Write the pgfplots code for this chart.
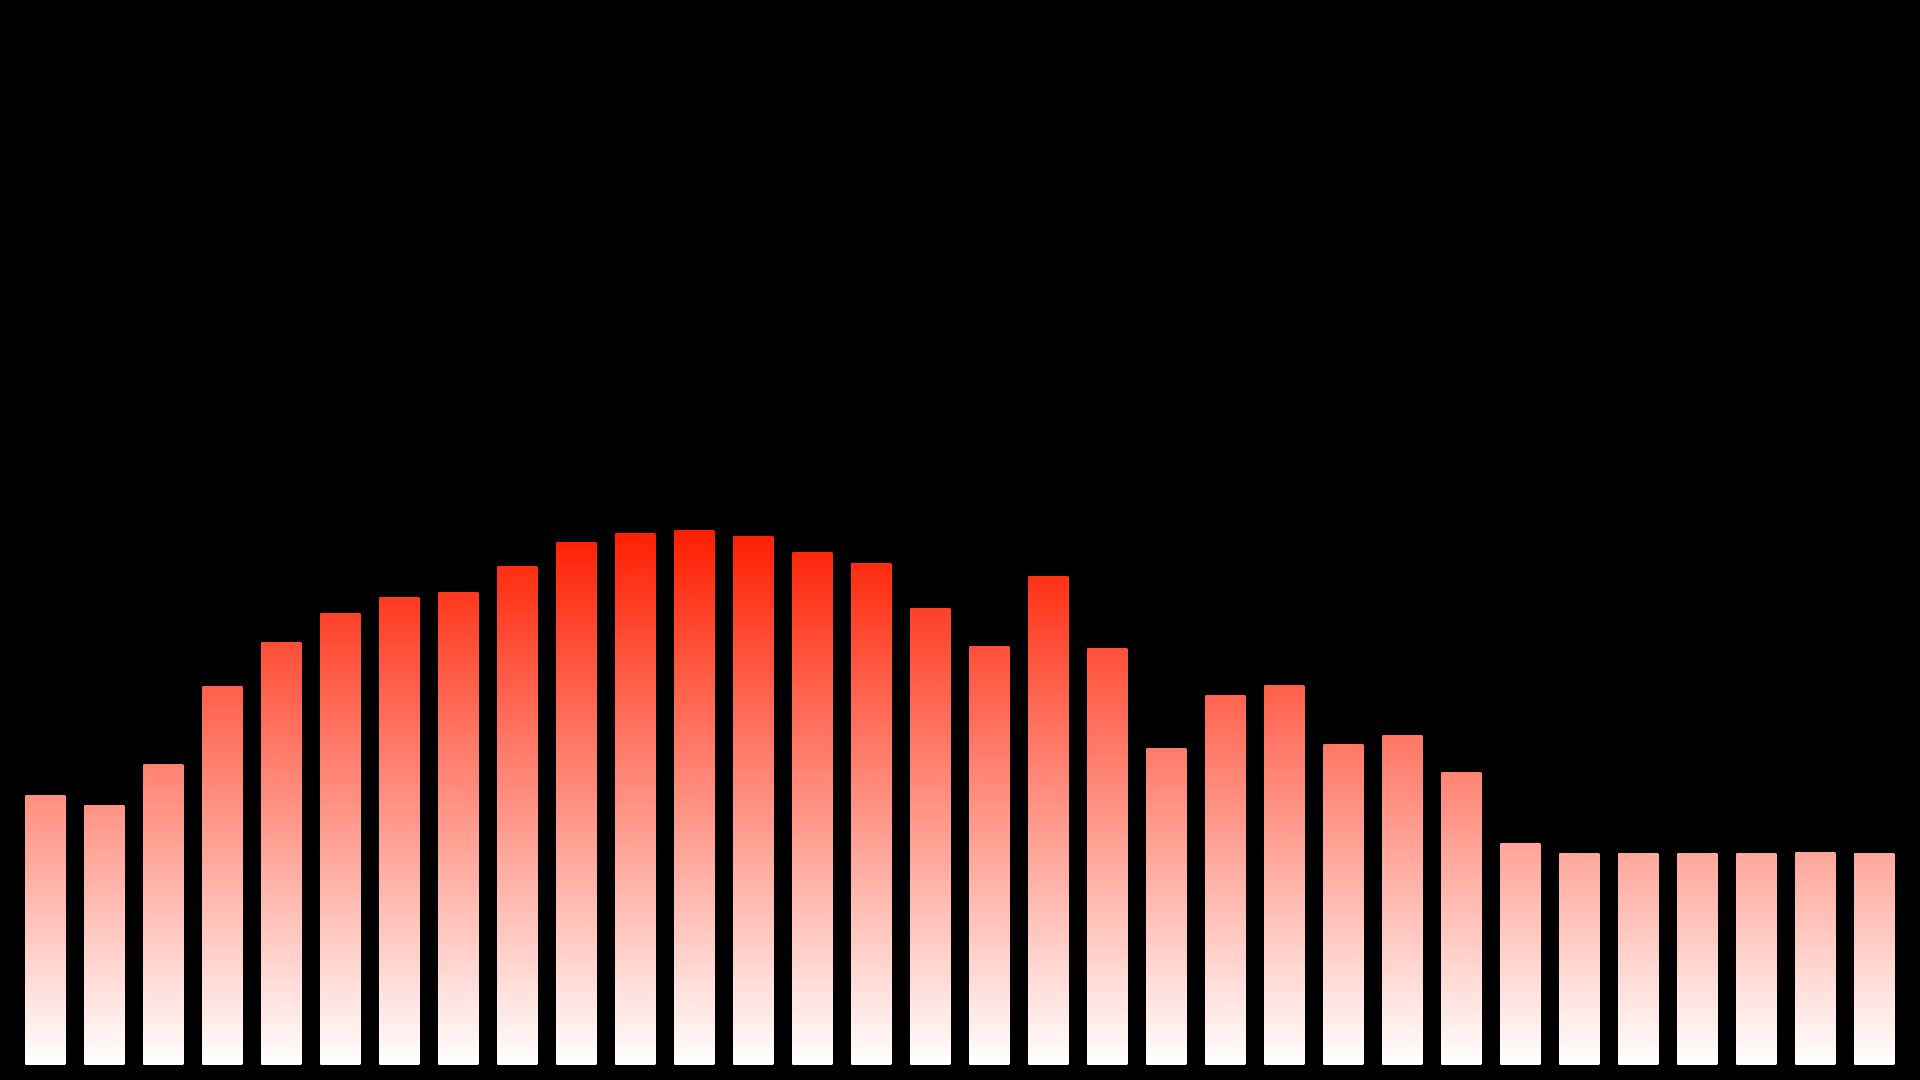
\documentclass[border=0pt]{standalone}
\usepackage{pgfplots}
\pgfplotsset{compat=1.18}
\definecolor{barred}{RGB}{255,30,0}
% one bar: x, height, percent of red at its top
\newcommand{\bbar}[3]{\addplot[ybar, bar width=0.678, draw=none,
  top color=barred!#3!white, bottom color=white] coordinates {(#1,#2)};}
\begin{document}
\begin{tikzpicture}
\fill[black] (0,0) rectangle (19.2cm,10.8cm);
\begin{axis}[
    at={(0,0)}, anchor=south west,
    width=19.2cm, height=10.8cm,
    scale only axis,
    hide axis,
    xmin=0.232, xmax=32.774,
    ymin=-13, ymax=869,
]
\bbar{1}{219}{50}
\bbar{2}{211}{48}
\bbar{3}{245}{56}
\bbar{4}{308}{71}
\bbar{5}{344}{79}
\bbar{6}{368}{84}
\bbar{7}{381}{87}
\bbar{8}{385}{88}
\bbar{9}{406}{93}
\bbar{10}{426}{98}
\bbar{11}{433}{99}
\bbar{12}{436}{100}
\bbar{13}{431}{99}
\bbar{14}{418}{96}
\bbar{15}{409}{94}
\bbar{16}{372}{85}
\bbar{17}{341}{78}
\bbar{18}{398}{91}
\bbar{19}{339}{78}
\bbar{20}{258}{59}
\bbar{21}{301}{69}
\bbar{22}{309}{71}
\bbar{23}{261}{60}
\bbar{24}{268}{61}
\bbar{25}{238}{55}
\bbar{26}{180}{41}
\bbar{27}{172}{39}
\bbar{28}{172}{39}
\bbar{29}{172}{39}
\bbar{30}{172}{39}
\bbar{31}{173}{40}
\bbar{32}{172}{39}
\end{axis}
\end{tikzpicture}
\end{document}
